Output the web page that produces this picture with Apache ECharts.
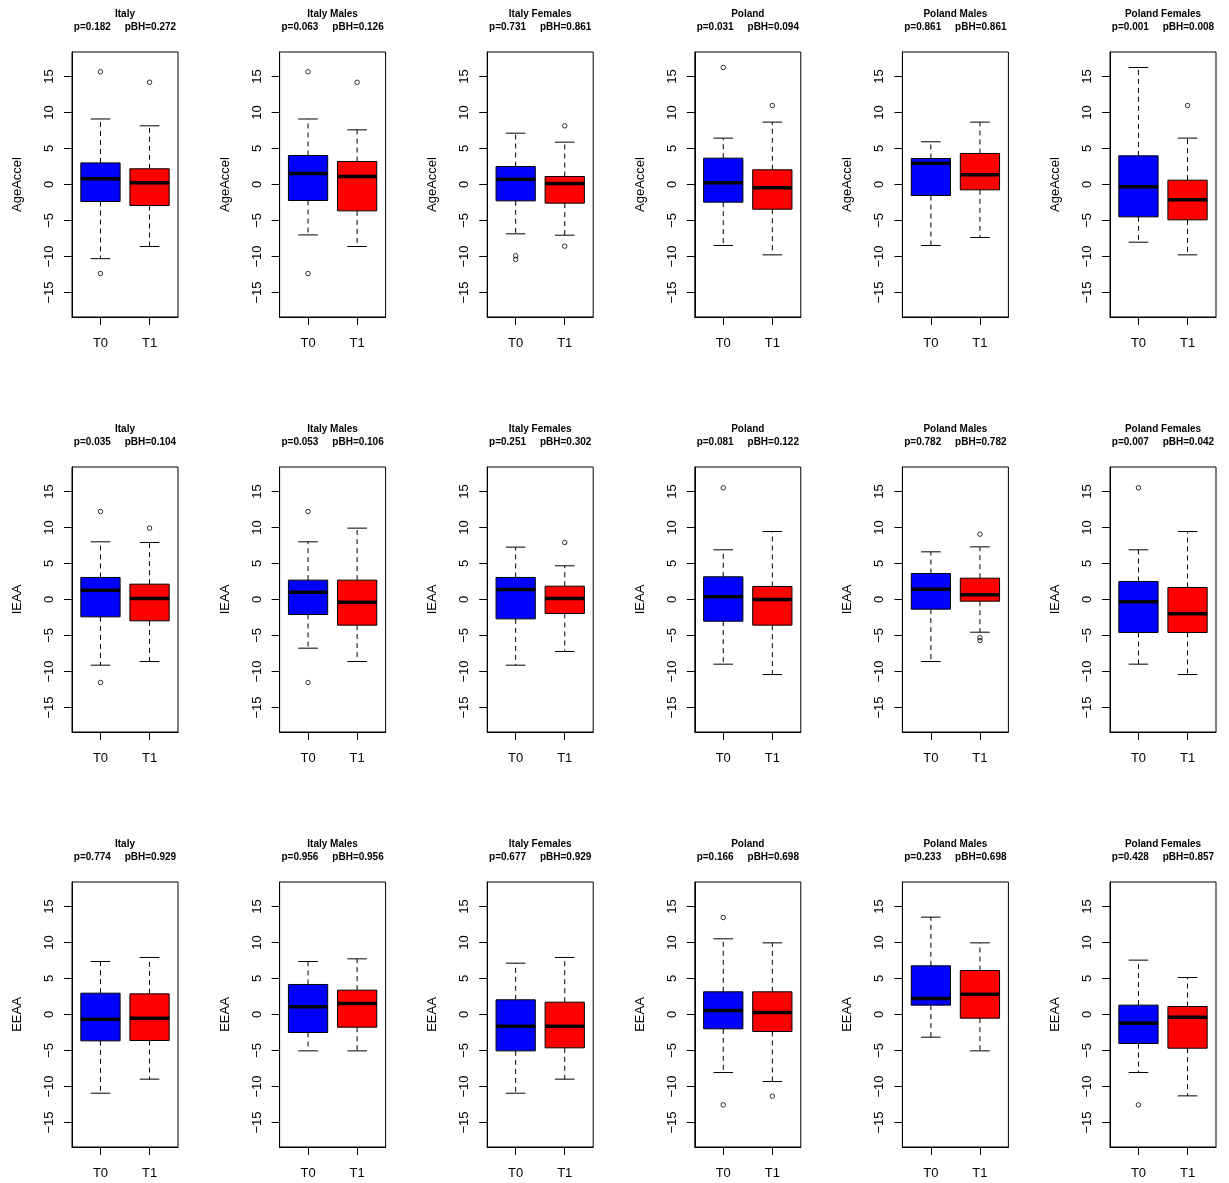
<!DOCTYPE html>
<html>
<head>
<meta charset="utf-8">
<script src="https://cdn.jsdelivr.net/npm/echarts@6/dist/echarts.min.js"></script>
<style>html,body{margin:0;padding:0;background:#fff}#c{width:1229px;height:1183px}</style>
</head>
<body>
<div id="c"></div>
<script>
// ---------- data ----------
const groups = ['Italy', 'Italy Males', 'Italy Females', 'Poland', 'Poland Males', 'Poland Females'];
const measures = ['AgeAccel', 'IEAA', 'EEAA'];
const timepoints = ['T0', 'T1'];
const yTicks = [-15, -10, -5, 0, 5, 10, 15];

const pAgeAccel = ['0.182', '0.063', '0.731', '0.031', '0.861', '0.001'];
const pBHAgeAccel = ['0.272', '0.126', '0.861', '0.094', '0.861', '0.008'];
const pIEAA = ['0.035', '0.053', '0.251', '0.081', '0.782', '0.007'];
const pBHIEAA = ['0.104', '0.106', '0.302', '0.122', '0.782', '0.042'];
const pEEAA = ['0.774', '0.956', '0.677', '0.166', '0.233', '0.428'];
const pBHEEAA = ['0.929', '0.956', '0.929', '0.698', '0.698', '0.857'];

// box stats per group: [lower whisker, Q1, median, Q3, upper whisker]
const ageAccelT0 = [[-10.3, -2.36, 0.79, 3.0, 9.1], [-7.0, -2.22, 1.53, 4.03, 9.1], [-6.85, -2.27, 0.74, 2.5, 7.13],
  [-8.47, -2.45, 0.23, 3.66, 6.44], [-8.47, -1.53, 2.96, 3.61, 5.93], [-8.01, -4.49, -0.32, 3.98, 16.25]];
const ageAccelT1 = [[-8.61, -2.92, 0.23, 2.18, 8.15], [-8.61, -3.66, 1.11, 3.19, 7.59], [-7.04, -2.59, 0.14, 1.11, 5.88],
  [-9.77, -3.43, -0.46, 2.04, 8.66], [-7.36, -0.74, 1.34, 4.31, 8.66], [-9.77, -4.91, -2.13, 0.6, 6.44]];
const ieaaT0 = [[-9.12, -2.41, 1.3, 3.06, 8.01], [-6.76, -2.08, 1.02, 2.69, 8.01], [-9.12, -2.69, 1.39, 3.06, 7.27],
  [-8.98, -3.01, 0.37, 3.15, 6.9], [-8.61, -1.34, 1.44, 3.61, 6.62], [-8.98, -4.58, -0.32, 2.5, 6.9]];
const ieaaT1 = [[-8.61, -2.96, 0.14, 2.13, 7.92], [-8.61, -3.56, -0.37, 2.69, 9.91], [-7.22, -1.94, 0.14, 1.85, 4.68],
  [-10.42, -3.56, 0.0, 1.81, 9.44], [-4.54, -0.23, 0.65, 2.96, 7.31], [-10.42, -4.58, -1.99, 1.67, 9.44]];
const eeaaT0 = [[-10.93, -3.66, -0.65, 2.96, 7.36], [-5.05, -2.5, 1.06, 4.17, 7.36], [-10.93, -5.05, -1.62, 2.04, 7.13],
  [-8.06, -1.99, 0.56, 3.15, 10.51], [-3.15, 1.3, 2.22, 6.76, 13.52], [-8.06, -4.03, -1.2, 1.3, 7.55]];
const eeaaT1 = [[-8.98, -3.61, -0.51, 2.87, 7.92], [-5.05, -1.76, 1.53, 3.38, 7.73], [-8.98, -4.63, -1.62, 1.71, 7.92],
  [-9.31, -2.36, 0.28, 3.15, 9.95], [-5.05, -0.51, 2.82, 6.11, 9.95], [-11.3, -4.68, -0.37, 1.11, 5.14]];

// outliers per group
const ageAccelOutT0 = [[15.65, -12.36], [15.65, -12.36], [-9.9, -10.4], [16.25], [], []];
const ageAccelOutT1 = [[14.2], [14.2], [8.15, -8.56], [10.97], [], [10.97]];
const ieaaOutT0 = [[12.22, -11.53], [12.22, -11.53], [], [15.51], [], [15.51]];
const ieaaOutT1 = [[9.91], [], [7.92], [], [9.07, -5.3, -5.7], []];
const eeaaOutT0 = [[], [], [], [13.47, -12.55], [], [-12.55]];
const eeaaOutT1 = [[], [], [], [-11.34], [], []];

// ---------- build ----------
const statsT0 = [ageAccelT0, ieaaT0, eeaaT0];
const statsT1 = [ageAccelT1, ieaaT1, eeaaT1];
const outT0 = [ageAccelOutT0, ieaaOutT0, eeaaOutT0];
const outT1 = [ageAccelOutT1, ieaaOutT1, eeaaOutT1];
const pVals = [pAgeAccel, pIEAA, pEEAA];
const pBHVals = [pBHAgeAccel, pBHIEAA, pBHEEAA];
const fillColors = ['#0000FF', '#FF0000'];
const FONT = '"Liberation Sans", Arial, Helvetica, sans-serif';

const option = {
  animation: false,
  backgroundColor: '#ffffff',
  title: [], grid: [], xAxis: [], yAxis: [], series: []
};

function renderBox(params, api) {
  const x = api.value(0);
  const lo = api.coord([x, api.value(1)]);
  const q1 = api.coord([x, api.value(2)]);
  const md = api.coord([x, api.value(3)]);
  const q3 = api.coord([x, api.value(4)]);
  const hi = api.coord([x, api.value(5)]);
  const bw = api.size([0.8, 0])[0];
  const cw = api.size([0.4, 0])[0];
  const cx = md[0];
  const dash = { stroke: '#000', lineWidth: 1, lineDash: [5, 4] };
  const solid = { stroke: '#000', lineWidth: 1 };
  return {
    type: 'group',
    children: [
      { type: 'line', shape: { x1: cx, y1: q3[1], x2: cx, y2: hi[1] }, style: dash },
      { type: 'line', shape: { x1: cx, y1: q1[1], x2: cx, y2: lo[1] }, style: dash },
      { type: 'line', shape: { x1: cx - cw / 2, y1: hi[1], x2: cx + cw / 2, y2: hi[1] }, style: solid },
      { type: 'line', shape: { x1: cx - cw / 2, y1: lo[1], x2: cx + cw / 2, y2: lo[1] }, style: solid },
      { type: 'rect', shape: { x: cx - bw / 2, y: q3[1], width: bw, height: q1[1] - q3[1] },
        style: { fill: fillColors[params.dataIndex], stroke: '#000', lineWidth: 1 } },
      { type: 'line', shape: { x1: cx - bw / 2, y1: md[1], x2: cx + bw / 2, y2: md[1] },
        style: { stroke: '#000', lineWidth: 3.5 } }
    ]
  };
}

for (let r = 0; r < 3; r++) {
  for (let c = 0; c < 6; c++) {
    const idx = r * 6 + c;
    const left = 72 + 207.6 * c;
    const top = 52 + 415 * r;
    option.grid.push({
      left: left, top: top, width: 106, height: 265,
      show: true, borderColor: '#000', borderWidth: 1, backgroundColor: 'transparent',
      containLabel: false, outerBoundsMode: 'none'
    });
    option.title.push({
      left: left + 53, top: 8.2 + 415 * r, textAlign: 'center', padding: 0,
      text: groups[c] + '\n' + 'p=' + pVals[r][c] + '     pBH=' + pBHVals[r][c],
      textStyle: { fontFamily: FONT, fontSize: 10, fontWeight: 'bold', color: '#000', lineHeight: 13 }
    });
    option.xAxis.push({
      type: 'value', gridIndex: idx, min: 0.42, max: 2.58,
      splitLine: { show: false },
      axisLine: { show: true, onZero: false, lineStyle: { color: '#000', width: 1 } },
      axisTick: { show: true, inside: false, customValues: [1, 2], length: 8, lineStyle: { color: '#000', width: 1 } },
      axisLabel: {
        show: true, customValues: [1, 2], margin: 19.5,
        formatter: function (v) { return timepoints[Math.round(v) - 1] || ''; },
        fontFamily: FONT, fontSize: 13, color: '#000'
      }
    });
    option.yAxis.push({
      type: 'value', gridIndex: idx, min: -18.4, max: 18.4,
      name: measures[r], nameLocation: 'middle', nameRotate: 90, nameGap: 48,
      nameTextStyle: { fontFamily: FONT, fontSize: 13, color: '#000' },
      splitLine: { show: false },
      axisLine: { show: true, onZero: false, lineStyle: { color: '#000', width: 1 } },
      axisTick: { show: true, inside: false, customValues: yTicks, length: 8, lineStyle: { color: '#000', width: 1 } },
      axisLabel: {
        show: true, customValues: yTicks, rotate: 90, margin: 16,
        formatter: function (v) { return v < 0 ? '\u2212' + (-v) : String(v); },
        fontFamily: FONT, fontSize: 13, color: '#000'
      }
    });
    const boxData = [
      [1].concat(statsT0[r][c]),
      [2].concat(statsT1[r][c])
    ];
    option.series.push({
      type: 'custom', xAxisIndex: idx, yAxisIndex: idx,
      renderItem: renderBox, data: boxData,
      encode: { x: 0, y: [1, 2, 3, 4, 5] }, clip: false, silent: true
    });
    const outData = outT0[r][c].map(v => [1, v]).concat(outT1[r][c].map(v => [2, v]));
    option.series.push({
      type: 'scatter', xAxisIndex: idx, yAxisIndex: idx,
      data: outData, symbol: 'circle', symbolSize: 4.5, silent: true,
      itemStyle: { color: 'rgba(0,0,0,0)', borderColor: '#000', borderWidth: 1 }
    });
  }
}

const chart = echarts.init(document.getElementById('c'), null, { renderer: 'canvas' });
chart.setOption(option);
</script>
</body>
</html>
